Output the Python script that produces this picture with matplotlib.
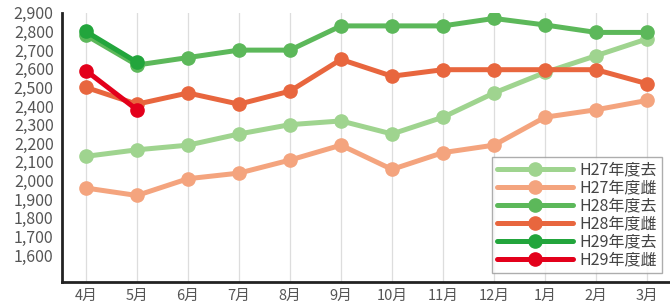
import matplotlib.pyplot as plt

plt.rcParams['font.family'] = ['Noto Sans CJK JP', 'DejaVu Sans']

months = ['4月', '5月', '6月', '7月', '8月', '9月', '10月', '11月', '12月', '1月', '2月', '3月']

h27_kyo = [2130, 2165, 2190, 2250, 2300, 2320, 2250, 2340, 2470, 2580, 2670, 2760]
h27_shi = [1960, 1920, 2010, 2040, 2110, 2190, 2060, 2150, 2190, 2340, 2380, 2430]
h28_kyo = [2780, 2620, 2660, 2700, 2700, 2830, 2830, 2830, 2870, 2835, 2795, 2795]
h28_shi = [2500, 2410, 2470, 2410, 2480, 2650, 2560, 2595, 2595, 2595, 2595, 2520]
h29_kyo = [2800, 2635]
h29_shi = [2590, 2380]

labels = ['H27年度去', 'H27年度雌', 'H28年度去', 'H28年度雌', 'H29年度去', 'H29年度雌']
colors = ['#9fd48f', '#f4a47e', '#5cb85a', '#e8663e', '#22a53c', '#e3001b']
series = [h27_kyo, h27_shi, h28_kyo, h28_shi, h29_kyo, h29_shi]

fig = plt.figure(figsize=(6.7, 3.06), dpi=100)
ax = fig.add_axes([0.0925, 0.078, 0.9075, 0.88])

x = list(range(len(months)))
for vals, lab, col in zip(series, labels, colors):
    ax.plot(x[:len(vals)], vals, color=col, lw=3.6, marker='o', ms=9.5,
            label=lab, solid_capstyle='round')

ax.set_xlim(-0.47, 11.45)
ax.set_ylim(1455, 2900)
ax.set_xticks(x)
ax.set_xticklabels(months)
ax.set_yticks(range(1600, 3000, 100))
ax.set_yticklabels([f'{v:,}' for v in range(1600, 3000, 100)])
ax.tick_params(axis='both', length=0, colors='#555555')
ax.tick_params(axis='y', pad=6, labelsize=11.5)
ax.tick_params(axis='x', pad=5, labelsize=10.5)

ax.grid(axis='x', color='#dddddd', lw=0.9)
ax.set_axisbelow(True)
for s in ['top', 'right']:
    ax.spines[s].set_visible(False)
for s in ['left', 'bottom']:
    ax.spines[s].set_linewidth(2)
    ax.spines[s].set_color('#222222')

leg = ax.legend(loc='lower right', bbox_to_anchor=(0.987, 0.033), fontsize=11.5,
                handlelength=4.8, numpoints=1, fancybox=False, frameon=True,
                borderpad=0.3, labelspacing=0.06, handletextpad=0.4,
                borderaxespad=0)
leg.get_frame().set_edgecolor('#999999')
leg.get_frame().set_linewidth(1)
for t in leg.get_texts():
    t.set_color('#444444')

fig.savefig('out.png', dpi=100)
